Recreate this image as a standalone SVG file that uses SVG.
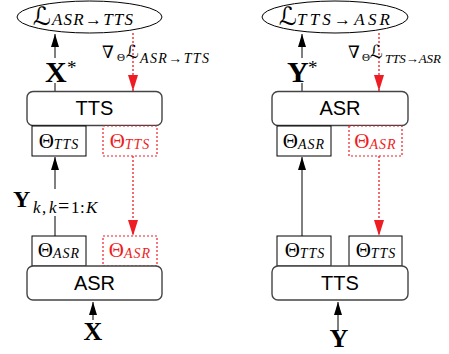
<svg xmlns="http://www.w3.org/2000/svg" width="449" height="354" viewBox="0 0 449 354">
<defs>
<style>
.big{fill:#fff;stroke:#444;stroke-width:1.4}
.par{fill:#fff;stroke:#000;stroke-width:1}
.parr{fill:#fff;stroke:#ee1d23;stroke-width:1.2;stroke-dasharray:2 2}
.ell{fill:#fff;stroke:#000;stroke-width:1}
.blk{stroke:#000;stroke-width:1;fill:none}
.red{stroke:#ee1d23;stroke-width:1.3;stroke-dasharray:2 2;fill:none}
.mod{font-family:"Liberation Sans",Arial,sans-serif;font-size:20px;fill:#000;text-anchor:middle}
.th{font-family:"Liberation Serif","DejaVu Serif",serif;font-size:21px;fill:#000}
.sub{font-family:"Liberation Serif","DejaVu Serif",serif;font-style:italic}
.scr{font-family:"DejaVu Serif","DejaVu Sans",serif;font-style:italic}
.bold{font-family:"Liberation Serif","DejaVu Serif",serif;font-weight:bold;fill:#000}
.rt{fill:#ee1d23}
</style>
<marker id="ab" markerUnits="userSpaceOnUse" markerWidth="14" markerHeight="10" refX="13" refY="4" orient="auto">
<path d="M0,0 L13,4 L0,8 z" style="fill:#000;stroke:none"/>
</marker>
<marker id="ar" markerUnits="userSpaceOnUse" markerWidth="17" markerHeight="12" refX="16" refY="5" orient="auto">
<path d="M0,0 L16,5 L0,10 z" style="fill:#ee1d23;stroke:none"/>
</marker>
</defs>
<rect width="449" height="354" fill="#fff"/>

<g id="connectors">
<line class="blk" x1="55" y1="91.5" x2="55" y2="83"/>
<line class="blk" x1="55" y1="58" x2="55" y2="34" marker-end="url(#ab)"/>
<line class="red" x1="133" y1="33" x2="133" y2="91" marker-end="url(#ar)"/>
<line class="blk" x1="55" y1="236" x2="55" y2="216"/>
<line class="blk" x1="55" y1="189" x2="55" y2="157" marker-end="url(#ab)"/>
<line class="red" x1="133" y1="156" x2="133" y2="236" marker-end="url(#ar)"/>
<line class="blk" x1="93" y1="320" x2="93" y2="302" marker-end="url(#ab)"/>

<line class="blk" x1="302" y1="91.5" x2="302" y2="83"/>
<line class="blk" x1="302" y1="58" x2="302" y2="34" marker-end="url(#ab)"/>
<line class="red" x1="379" y1="33" x2="379" y2="91" marker-end="url(#ar)"/>
<line class="blk" x1="302" y1="236" x2="302" y2="157" marker-end="url(#ab)"/>
<line class="red" x1="379" y1="156" x2="379" y2="236" marker-end="url(#ar)"/>
<line class="blk" x1="338" y1="330" x2="338" y2="302" marker-end="url(#ab)"/>
</g>

<g id="loss-asr-tts">
<ellipse class="ell" cx="89.5" cy="17" rx="72.5" ry="16"/>
<text class="scr" x="33" y="25" font-size="25">ℒ</text>
<text class="sub" x="52" y="25" font-size="17" textLength="81" lengthAdjust="spacing">ASR→TTS</text>
</g>
<g id="grad-left">
<text class="scr" x="102" y="58" font-size="17" style="font-style:normal">∇</text>
<text class="sub" x="117" y="61" font-size="11" style="font-style:normal">Θ</text>
<text class="scr" x="126" y="58" font-size="18">ℒ</text>
<text class="sub" x="140" y="63" font-size="14" textLength="69" lengthAdjust="spacing">ASR→TTS</text>
</g>
<g id="xstar">
<text class="bold" x="45" y="82" font-size="30">X</text>
<text class="sub" x="67" y="74" font-size="19" style="font-style:normal">*</text>
</g>
<g id="tts-left">
<rect class="big" x="27" y="91.5" width="135" height="34" rx="6"/>
<text class="mod" x="94.5" y="115">TTS</text>
</g>
<g id="theta-tts-left">
<rect class="par" x="32" y="126" width="54" height="30"/>
<text class="th" x="59" y="148" text-anchor="middle">Θ<tspan class="sub" font-size="14" dy="1" letter-spacing="1">TTS</tspan></text>
</g>
<g id="theta-tts-left-red">
<rect class="parr" x="103" y="126" width="54" height="30"/>
<text class="th rt" x="130" y="148" text-anchor="middle">Θ<tspan class="sub" font-size="14" dy="1" letter-spacing="1">TTS</tspan></text>
</g>
<g id="ylabel">
<text class="bold" x="13" y="207" font-size="24">Y</text>
<text class="sub" y="213" font-size="17"><tspan x="33">k</tspan><tspan x="42" style="font-style:normal">,</tspan><tspan x="49">k</tspan><tspan x="58" style="font-style:normal" font-size="20">=</tspan><tspan x="71" style="font-style:normal">1</tspan><tspan x="80" style="font-style:normal">:</tspan><tspan x="86">K</tspan></text>
</g>
<g id="theta-asr-left">
<rect class="par" x="32" y="236" width="54" height="30"/>
<text class="th" x="59" y="257" text-anchor="middle">Θ<tspan class="sub" font-size="14" dy="1" letter-spacing="1">ASR</tspan></text>
</g>
<g id="theta-asr-left-red">
<rect class="parr" x="103" y="236" width="54" height="30"/>
<text class="th rt" x="130" y="257" text-anchor="middle">Θ<tspan class="sub" font-size="14" dy="1" letter-spacing="1">ASR</tspan></text>
</g>
<g id="asr-left">
<rect class="big" x="27" y="266" width="135" height="34" rx="6"/>
<text class="mod" x="94.5" y="290">ASR</text>
</g>
<g id="x-input">
<text class="bold" x="93" y="340" font-size="26" text-anchor="middle">X</text>
</g>

<g id="loss-tts-asr">
<ellipse class="ell" cx="335" cy="17" rx="73" ry="16"/>
<text class="scr" x="279" y="25" font-size="25">ℒ</text>
<text class="sub" x="297" y="25" font-size="17" textLength="93" lengthAdjust="spacing">TTS→ASR</text>
</g>
<g id="grad-right">
<text class="scr" x="348" y="58" font-size="17" style="font-style:normal">∇</text>
<text class="sub" x="362" y="61" font-size="11" style="font-style:normal">Θ</text>
<text class="scr" x="370" y="58" font-size="18">ℒ</text>
<text class="sub" x="385" y="63" font-size="13" textLength="56" lengthAdjust="spacing">TTS→ASR</text>
</g>
<g id="ystar">
<text class="bold" x="287" y="82" font-size="30">Y</text>
<text class="sub" x="308" y="74" font-size="19" style="font-style:normal">*</text>
</g>
<g id="asr-right">
<rect class="big" x="272" y="91.5" width="136" height="34" rx="6"/>
<text class="mod" x="340" y="115">ASR</text>
</g>
<g id="theta-asr-right">
<rect class="par" x="277" y="126" width="54" height="30"/>
<text class="th" x="304" y="148" text-anchor="middle">Θ<tspan class="sub" font-size="14" dy="1" letter-spacing="1">ASR</tspan></text>
</g>
<g id="theta-asr-right-red">
<rect class="parr" x="349" y="126" width="53" height="30"/>
<text class="th rt" x="375.5" y="148" text-anchor="middle">Θ<tspan class="sub" font-size="14" dy="1" letter-spacing="1">ASR</tspan></text>
</g>
<g id="theta-tts-right">
<rect class="par" x="277" y="236" width="54" height="30"/>
<text class="th" x="305" y="257" text-anchor="middle">Θ<tspan class="sub" font-size="14" dy="1" letter-spacing="1">TTS</tspan></text>
</g>
<g id="theta-tts-right-2">
<rect class="par" x="349" y="236" width="53" height="30"/>
<text class="th" x="376" y="257" text-anchor="middle">Θ<tspan class="sub" font-size="14" dy="1" letter-spacing="1">TTS</tspan></text>
</g>
<g id="tts-right">
<rect class="big" x="272" y="266" width="136" height="34" rx="6"/>
<text class="mod" x="340" y="290">TTS</text>
</g>
<g id="y-input">
<text class="bold" x="339" y="347" font-size="26" text-anchor="middle">Y</text>
</g>
</svg>
